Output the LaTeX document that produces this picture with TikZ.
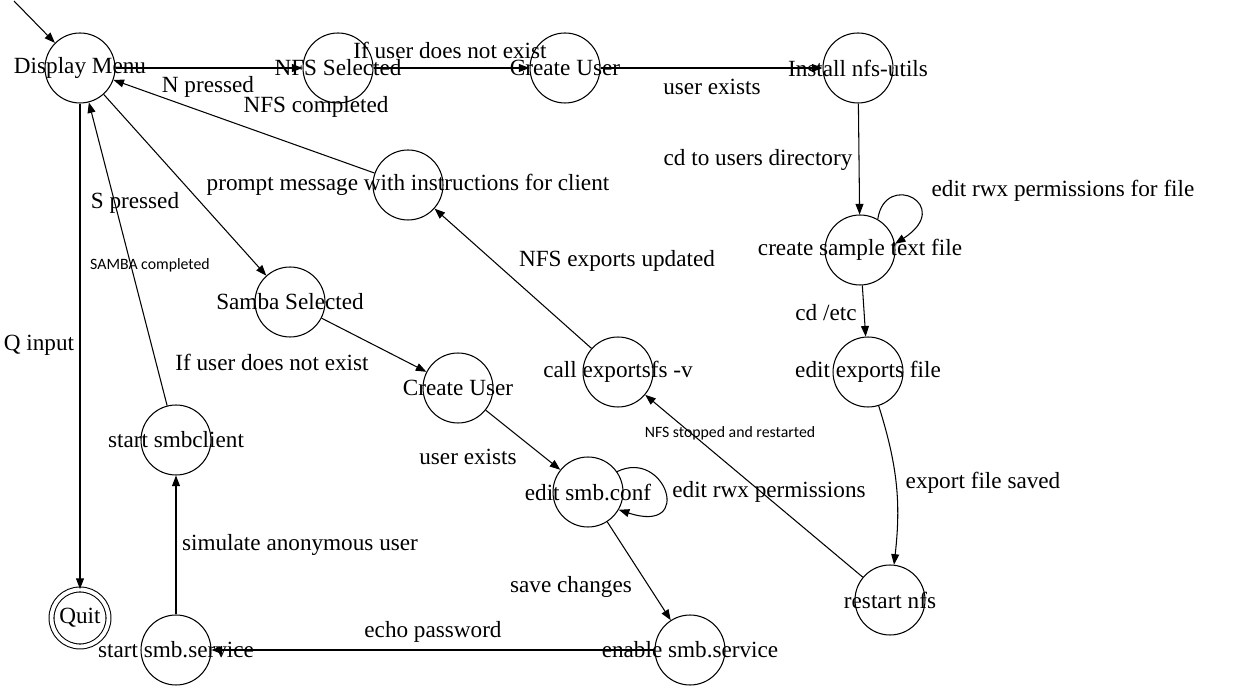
\documentclass[tikz,border=0pt]{standalone}
\usepackage{fontspec}
\setmainfont{Liberation Serif}
\newfontfamily\smallsans{Carlito}
\usetikzlibrary{arrows.meta}

\tikzset{
    st/.style={circle,draw,line width=0.6pt,minimum size=1.4cm,inner sep=0pt},
    lbl/.style={font=\fontsize{13.2}{15}\selectfont,inner sep=0pt},
    sml/.style={font=\smallsans\fontsize{9}{10}\selectfont,inner sep=0pt},
    edge/.style={-{Triangle[length=6pt,width=4.5pt]},line width=0.6pt}
}

\begin{document}
\begin{tikzpicture}[x=0.02cm,y=0.02cm]
        \useasboundingbox (0,0) rectangle (1233,-688);
        % states
        \node[st,label={[lbl]center:Display Menu}] (dm) at (80,-68) {};
        \node[st,label={[lbl]center:NFS Selected}] (nfs) at (338,-68) {};
        \node[st,label={[lbl]center:Create User}] (cu1) at (565,-68) {};
        \node[st,label={[lbl]center:Install nfs-utils}] (inst) at (858,-68) {};
        \node[st,label={[lbl]center:prompt message with instructions for client}] (prm) at (408,-185) {};
        \node[st,label={[lbl]center:create sample text file}] (cst) at (860,-250) {};
        \node[st,label={[lbl]center:edit exports file}] (edx) at (868,-372) {};
        \node[st,label={[lbl]center:call exportsfs -v}] (call) at (618,-372) {};
        \node[st,label={[lbl]center:restart nfs}] (rnfs) at (890,-600) {};
        \node[st,label={[lbl]center:Samba Selected}] (sam) at (290,-302) {};
        \node[st,label={[lbl]center:Create User}] (cu2) at (458,-388) {};
        \node[st,label={[lbl]center:edit smb.conf}] (smbc) at (588,-492) {};
        \node[st,label={[lbl]center:enable smb.service}] (ens) at (690,-650) {};
        \node[st,label={[lbl]center:start smb.service}] (sss) at (176,-650) {};
        \node[st,label={[lbl]center:start smbclient}] (smcl) at (176,-440) {};
        \node[circle,draw,line width=0.6pt,double,double distance=2.2pt,minimum size=1.14cm,inner sep=0pt,label={[lbl]center:Quit}] (quit) at (80,-618) {};
        \coordinate (init) at (14,-1);

        % transitions
        \draw[edge] (init) -- (dm.135);
        \draw[edge] (dm) -- (nfs) node[lbl] at (208,-87) {N pressed};
        \draw[edge] (nfs) -- (cu1) node[lbl] at (450,-50) {If user does not exist};
        \draw[edge] (cu1) -- (inst) node[lbl] at (712,-87) {user exists};
        \draw[edge] (inst) -- (cst) node[lbl] at (758,-160) {cd to users directory};
        \draw[edge] (cst.60) .. controls (885,-170) and (955,-205) .. (cst.10)
            node[lbl] at (1063,-191) {edit rwx permissions for file};
        \draw[edge] (cst) -- (edx) node[lbl] at (826,-313) {cd /etc};
        \draw[edge] (edx) to[bend left=12] (rnfs) node[lbl] at (983,-483) {export file saved};
        \draw[edge] (rnfs) -- (call) node[sml] at (730,-433) {NFS stopped and restarted};
        \draw[edge] (call) -- (prm) node[lbl] at (617,-261) {NFS exports updated};
        \draw[edge] (prm) -- (dm) node[lbl] at (316,-107) {NFS completed};
        \draw[edge] (dm) -- (sam) node[lbl] at (135,-203) {S pressed};
        \draw[edge] (sam) -- (cu2) node[lbl] at (272,-362) {If user does not exist};
        \draw[edge] (cu2) -- (smbc) node[lbl] at (468,-457) {user exists};
        \draw[edge] (smbc.35) .. controls (665,-448) and (695,-535) .. (smbc.-30)
            node[lbl] at (769,-492) {edit rwx permissions};
        \draw[edge] (smbc) -- (ens) node[lbl] at (571,-587) {save changes};
        \draw[edge] (ens) -- (sss) node[lbl] at (433,-632) {echo password};
        \draw[edge] (sss) -- (smcl) node[lbl] at (300,-545) {simulate anonymous user};
        \draw[edge] (smcl) -- (dm) node[sml] at (150,-265) {SAMBA completed};
        \draw[edge] (dm) -- (quit) node[lbl] at (39,-345) {Q input};
    \end{tikzpicture}
\end{document}
